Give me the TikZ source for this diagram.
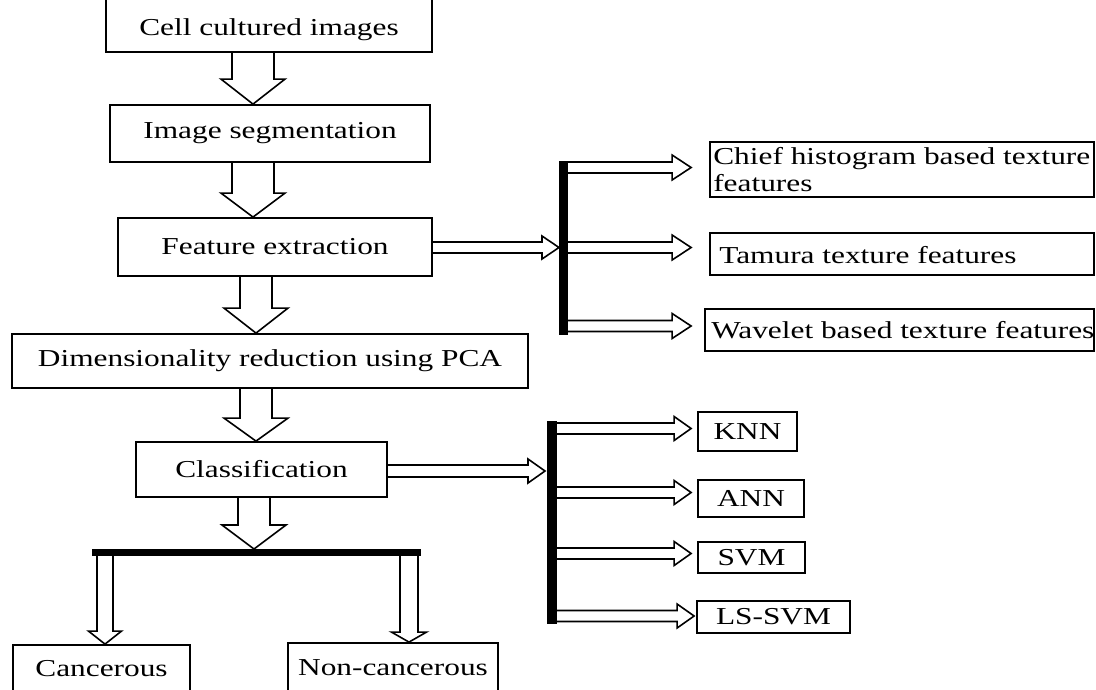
\documentclass[tikz,border=0pt]{standalone}
\usepackage{fontspec}
\setmainfont{Liberation Serif}[FakeStretch=1.29]
\usetikzlibrary{calc}
\newcommand\vblock[6]{\draw[blk] let \p1=(#2.south), \p2=(#3.north) in
 (#1pt-#4pt,\y1) -- (#1pt-#4pt,\y2+#6pt) -- (#1pt-#5pt,\y2+#6pt) -- (#1pt,\y2)
 -- (#1pt+#5pt,\y2+#6pt) -- (#1pt+#4pt,\y2+#6pt) -- (#1pt+#4pt,\y1);}
\newcommand\hblock[7]{\draw[blk] let \p1=(#2.east), \p2=(#3.west) in
 (\x1,-#1pt+#4pt) -- (\x2-#7pt-#6pt,-#1pt+#4pt) -- (\x2-#7pt-#6pt,-#1pt+#5pt) -- (\x2-#7pt,-#1pt)
 -- (\x2-#7pt-#6pt,-#1pt-#5pt) -- (\x2-#7pt-#6pt,-#1pt-#4pt) -- (\x1,-#1pt-#4pt);}
\begin{document}
\begin{tikzpicture}[x=1pt,y=-1pt,
  box/.style={draw,line width=1.8pt,inner sep=0pt,font=\fontsize{24.3}{27}\selectfont},
  txt/.style={inner sep=0pt,align=left,font=\fontsize{24.3}{27}\selectfont},
  bar/.style={fill=black,draw=none,inner sep=0pt,outer sep=0pt},
  blk/.style={draw,line width=1.6pt,line join=miter}]
\useasboundingbox (0,0) rectangle (1096,689);
% main column
\node[box,minimum width=326pt,minimum height=56pt] (cell) at (269,24) {};
\node[txt] (cellT) at (269,30) {Cell cultured images};
\node[box,minimum width=320pt,minimum height=57pt] (seg) at (270,133.5) {Image segmentation};
\node[box,minimum width=314pt,minimum height=58pt] (feat) at (275,247) {Feature extraction};
\node[box,minimum width=516pt,minimum height=54pt] (dim) at (270,361) {Dimensionality reduction using PCA};
\node[box,minimum width=251pt,minimum height=55pt] (cls) at (261.5,469.5) {Classification};
\node[bar,minimum width=329pt,minimum height=7pt] (bar2) at (256.5,552.5) {};
\node[box,minimum width=177pt,minimum height=47pt] (canc) at (101.5,668.5) {Cancerous};
\node[box,minimum width=210pt,minimum height=49pt] (nonc) at (393,667.5) {Non-cancerous};
% feature branch
\node[bar,minimum width=9pt,minimum height=174pt] (bar1) at (563.5,248) {};
\node[box,minimum width=384pt,minimum height=55pt] (chief) at (902,169.5) {};
\node[txt,anchor=west] (chiefT) at ($(chief.west)+(4,0)$) {Chief histogram based texture\\features};
\node[box,minimum width=384pt,minimum height=42pt] (tam) at (902,254) {};
\node[txt,anchor=west] (tamT) at ($(tam.west)+(10,1)$) {Tamura texture features};
\node[box,minimum width=389pt,minimum height=42pt] (wav) at (899.5,330) {};
\node[txt,anchor=west] (wavT) at ($(wav.west)+(7,0)$) {Wavelet based texture features};
% classifier branch
\node[bar,minimum width=10pt,minimum height=203pt] (bar3) at (552,522.5) {};
\node[box,minimum width=99pt,minimum height=39pt] (knn) at (747.5,431.5) {KNN};
\node[box,minimum width=106pt,minimum height=37pt] (ann) at (751,498.5) {ANN};
\node[box,minimum width=107pt,minimum height=31pt] (svm) at (751.5,557.5) {SVM};
\node[box,minimum width=153pt,minimum height=32pt] (ls) at (773.5,617) {LS-SVM};
% vertical block arrows
\vblock{253}{cell}{seg}{21}{32}{25}
\vblock{253}{seg}{feat}{21}{32}{24}
\vblock{256}{feat}{dim}{16}{32}{25}
\vblock{256}{dim}{cls}{16}{32}{23}
\vblock{254}{cls}{bar2}{16}{32}{24}
\vblock{105}{bar2}{canc}{8}{16.5}{13}
\vblock{409}{bar2}{nonc}{9}{17.5}{10}
% horizontal block arrows
\hblock{247.5}{feat}{bar1}{5.5}{11.5}{17}{0}
\hblock{167.5}{bar1}{chief}{5.5}{12.5}{19}{18}
\hblock{247.5}{bar1}{tam}{5.5}{12.5}{19}{18}
\hblock{326}{bar1}{wav}{5.5}{12.5}{19}{13}
\hblock{471}{cls}{bar3}{6}{12}{17}{2}
\hblock{428.5}{bar3}{knn}{5.5}{12}{17}{6}
\hblock{492.5}{bar3}{ann}{5.5}{12}{17}{6}
\hblock{553.5}{bar3}{svm}{5.5}{12}{17}{6}
\hblock{616}{bar3}{ls}{5.5}{12}{17}{2}
\end{tikzpicture}
\end{document}
